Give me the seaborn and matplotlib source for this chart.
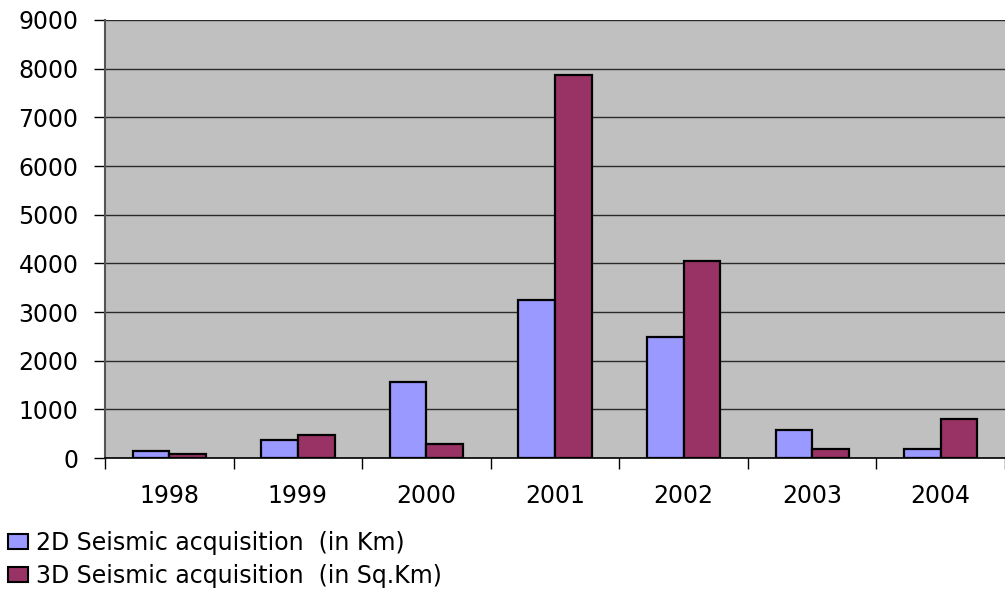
import matplotlib
matplotlib.use("Agg")
import matplotlib.pyplot as plt
import seaborn as sns
import pandas as pd
from matplotlib.patches import Patch

years = ["1998", "1999", "2000", "2001", "2002", "2003", "2004"]
series_names = ["2D Seismic acquisition  (in Km)", "3D Seismic acquisition  (in Sq.Km)"]
values_2d = [150, 370, 1560, 3240, 2490, 570, 185]
values_3d = [75, 480, 290, 7870, 4050, 185, 800]
colors = ["#9999FF", "#993366"]
y_ticks = list(range(0, 9001, 1000))

df = pd.DataFrame({
    "year": years * 2,
    "series": [series_names[0]] * len(years) + [series_names[1]] * len(years),
    "value": values_2d + values_3d,
})

sns.set_theme(style="white")
plt.rcParams["font.family"] = ["DejaVu Sans"]
plt.rcParams["text.color"] = "black"

W, H = 1005, 590
fig = plt.figure(figsize=(W / 100, H / 100), dpi=100)
ax = fig.add_axes([105 / W, 1 - 458 / H, 900 / W, (458 - 20) / H])
ax.set_facecolor("#C0C0C0")

sns.barplot(data=df, x="year", y="value", hue="series", order=years,
            hue_order=series_names, palette=colors, width=0.57, gap=0,
            edgecolor="black", linewidth=1.6, saturation=1, ax=ax, legend=False)

ax.set_xlim(-0.5, -0.5 + 900 / 129.9)
ax.set_ylim(0, 9000)
ax.set_yticks(y_ticks)
ax.set_yticklabels([str(v) for v in y_ticks])
ax.yaxis.grid(True, color="#2a2a2a", linewidth=1.0)
ax.xaxis.grid(False)
ax.set_axisbelow(True)
ax.set_xlabel("")
ax.set_ylabel("")

fs = 17
ax.set_xticks([i - 0.5 for i in range(len(years) + 1)], minor=True)
ax.tick_params(axis="x", which="major", length=0, pad=19, labelsize=fs, colors="black")
ax.tick_params(axis="x", which="minor", length=8, width=1, color="black", direction="out")
ax.tick_params(axis="y", which="major", length=8, width=1, color="black", direction="out",
               pad=11, labelsize=fs, labelcolor="black")
ax.tick_params(bottom=True, left=True, which="both")

for side in ["right", "top"]:
    ax.spines[side].set_visible(False)
ax.spines["left"].set_color("#555555")
ax.spines["left"].set_linewidth(1.5)
ax.spines["bottom"].set_color("black")
ax.spines["bottom"].set_linewidth(1.2)

handles = [Patch(facecolor=c, edgecolor="black", linewidth=1.5) for c in colors]
leg = fig.legend(handles, series_names, loc="upper left",
                 bbox_to_anchor=(8 / W, 1 - 531 / H), frameon=False,
                 fontsize=fs, handlelength=0.85, handleheight=0.58,
                 handletextpad=0.35, labelspacing=0.36, borderpad=0, borderaxespad=0)
for t in leg.get_texts():
    t.set_color("black")

fig.savefig("out.png", dpi=100, facecolor="white")
